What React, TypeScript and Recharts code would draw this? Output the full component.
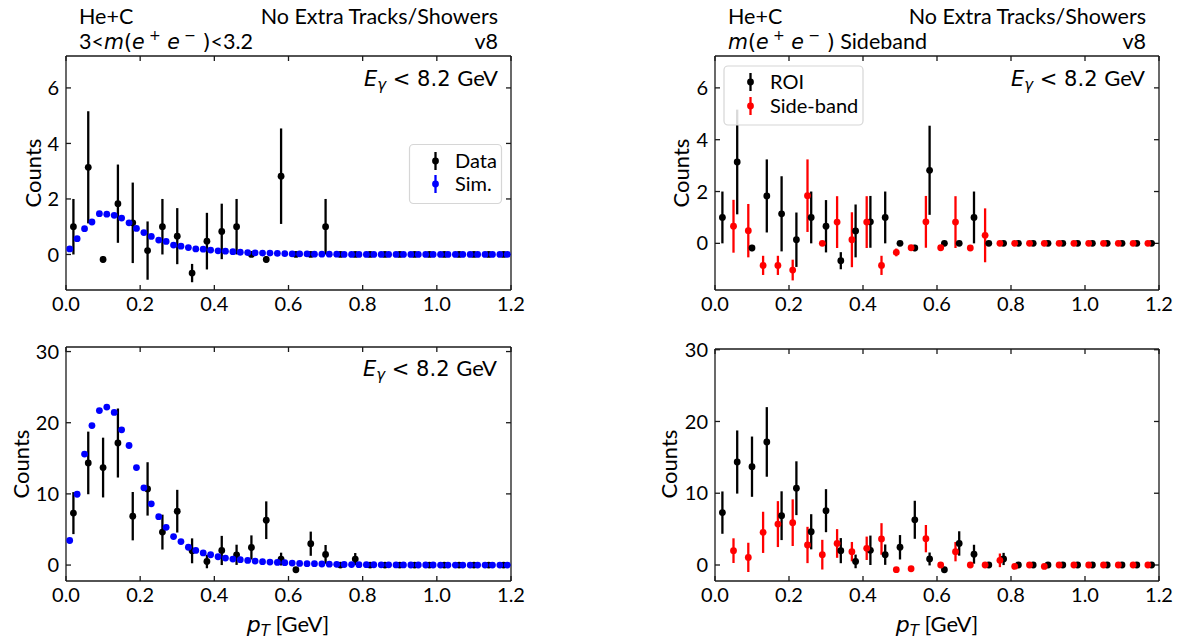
import React from 'react';
import { ScatterChart, Scatter, XAxis, YAxis, ErrorBar } from 'recharts';

// ---------- data ----------
const dataX = [0.02, 0.06, 0.10, 0.14, 0.18, 0.22, 0.26, 0.30, 0.34, 0.38, 0.42, 0.46, 0.50, 0.54, 0.58, 0.62, 0.66, 0.70, 0.74, 0.78, 0.82, 0.86, 0.90, 0.94, 0.98, 1.02, 1.06, 1.10, 1.14, 1.18];
const simX = [0.01, 0.03, 0.05, 0.07, 0.09, 0.11, 0.13, 0.15, 0.17, 0.19, 0.21, 0.23, 0.25, 0.27, 0.29, 0.31, 0.33, 0.35, 0.37, 0.39, 0.41, 0.43, 0.45, 0.47, 0.49, 0.51, 0.53, 0.55, 0.57, 0.59, 0.61, 0.63, 0.65, 0.67, 0.69, 0.71, 0.73, 0.75, 0.77, 0.79, 0.81, 0.83, 0.85, 0.87, 0.89, 0.91, 0.93, 0.95, 0.97, 0.99, 1.01, 1.03, 1.05, 1.07, 1.09, 1.11, 1.13, 1.15, 1.17, 1.19];
const sideX = [0.05, 0.09, 0.13, 0.17, 0.21, 0.25, 0.29, 0.33, 0.37, 0.41, 0.45, 0.49, 0.53, 0.57, 0.61, 0.65, 0.69, 0.73, 0.77, 0.81, 0.85, 0.89, 0.93, 0.97, 1.01, 1.05, 1.09, 1.13, 1.17];

const topDataY = [1.0, 3.14, -0.18, 1.83, 1.14, 0.14, 1.0, 0.66, -0.67, 0.48, 0.83, 1.0, 0, -0.18, 2.82, 0, 0, 1.0, 0, 0, 0, 0, 0, 0, 0, 0, 0, 0, 0, 0];
const topDataE = [1.0, 2.02, 0.12, 1.41, 1.45, 1.05, 1.0, 1.01, 0.33, 1.02, 1.0, 1.0, 0, 0.12, 1.72, 0, 0, 1.0, 0, 0, 0, 0, 0, 0, 0, 0, 0, 0, 0, 0];
const topSimY = [0.2, 0.57, 0.93, 1.17, 1.47, 1.45, 1.41, 1.31, 1.14, 0.94, 0.79, 0.65, 0.52, 0.47, 0.34, 0.30, 0.25, 0.20, 0.19, 0.16, 0.13, 0.12, 0.10, 0.08, 0.07, 0.06, 0.05, 0.05, 0.04, 0.03, 0.02, 0.02, 0.02, 0.01, 0.01, 0.01, 0.01, 0, 0, 0, 0, 0, 0, 0, 0, 0, 0, 0, 0, 0, 0, 0, 0, 0, 0, 0, 0, 0, 0, 0];
const topSideY = [0.66, 0.49, -0.85, -0.85, -1.03, 1.84, 0, 0.82, 0.14, 0.82, -0.85, -0.35, -0.17, 0.83, -0.17, 0.82, -0.18, 0.31, 0, 0, 0, 0, 0, 0, 0, 0, 0, 0, 0];
const topSideE = [1.02, 1.03, 0.37, 0.37, 0.4, 1.4, 0, 1.0, 1.06, 1.0, 0.37, 0.15, 0.1, 1.0, 0.1, 1.0, 0.1, 1.04, 0, 0, 0, 0, 0, 0, 0, 0, 0, 0, 0];

const botDataY = [7.3, 14.35, 13.7, 17.15, 6.87, 10.7, 4.63, 7.57, 2.0, 0.5, 2.05, 1.44, 2.47, 6.3, 0.84, -0.66, 3.0, 1.5, 0, 0.84, 0, 0, 0, 0, 0, 0, 0, 0, 0, 0];
const botDataE = [2.95, 4.4, 4.2, 4.85, 3.4, 3.75, 2.45, 3.0, 1.75, 0.95, 2.05, 1.42, 1.7, 2.65, 0.9, 0.15, 1.7, 1.32, 0, 0.85, 0, 0, 0, 0, 0, 0, 0, 0, 0, 0];
const botSimY = [3.45, 9.95, 15.6, 19.6, 21.7, 22.2, 21.45, 19.0, 16.8, 13.7, 10.85, 8.6, 6.8, 5.3, 4.0, 3.3, 2.5, 2.05, 1.7, 1.45, 1.17, 0.98, 0.84, 0.75, 0.65, 0.56, 0.47, 0.42, 0.37, 0.33, 0.28, 0.23, 0.2, 0.19, 0.15, 0.12, 0.1, 0.08, 0.07, 0.06, 0.05, 0.04, 0.03, 0.03, 0.02, 0.02, 0.01, 0.01, 0.01, 0.01, 0, 0, 0, 0, 0, 0, 0, 0, 0, 0];
const botSideY = [2.0, 1.06, 4.55, 5.7, 5.9, 2.79, 1.44, 3.0, 1.86, 2.33, 3.63, -0.65, -0.52, 3.67, 0, 1.86, 0, 0, 0.65, -0.2, 0, -0.2, 0, 0, 0, 0, 0, 0, 0];
const botSideE = [1.72, 2.04, 2.87, 3.2, 3.25, 2.53, 2.07, 2.0, 1.35, 1.63, 2.2, 0, 0, 1.9, 0, 1.35, 0, 0, 0.95, 0, 0, 0, 0, 0, 0, 0, 0, 0, 0];

const xTicks = [0, 0.2, 0.4, 0.6, 0.8, 1.0, 1.2];
const topYTicks = [0, 2, 4, 6];
const botYTicks = [0, 10, 20, 30];

const BLACK = '#000000';
const BLUE = '#0000ff';
const RED = '#ff0000';
const AX = '#1a1a1a';
const SANS = 'Lato, "Noto Sans", sans-serif';
const MATH = '"DejaVu Sans", sans-serif';

const build = (xs: number[], ys: number[], es?: number[]) =>
  xs.map((x, i) => ({ x, y: ys[i], e: es ? es[i] : 0 }));

type Series = { data: { x: number; y: number; e: number }[]; color: string; err: boolean; name: string };

const dot = (color: string) => (p: any) =>
  p.cx == null ? <g /> : <circle cx={p.cx} cy={p.cy} r={3.4} fill={color} />;
const nothing = () => <g />;

type PanelProps = {
  left: number; top: number; width: number; height: number;
  plotLeft: number; plotRight: number; plotTop: number; plotBottom: number;
  yDomain: [number, number]; yTicks: number[]; series: Series[];
};

function Panel(p: PanelProps) {
  const axisLine = { stroke: AX, strokeWidth: 1.3 };
  return (
    <div style={{ position: 'absolute', left: p.left, top: p.top }}>
      <ScatterChart
        width={p.width}
        height={p.height}
        margin={{ top: p.plotTop - 1, right: p.width - p.plotRight - 1, bottom: 0, left: 0 }}
      >
        <XAxis
          xAxisId="b" type="number" dataKey="x" domain={[0, 1.2]} ticks={xTicks}
          allowDataOverflow orientation="bottom" height={p.height - p.plotBottom}
          tickSize={-5} tickMargin={12} axisLine={axisLine} tickLine={axisLine}
          tickFormatter={(v: number) => v.toFixed(1)}
          tick={{ fill: '#000', fontSize: 20, fontFamily: SANS }}
        />
        <XAxis
          xAxisId="t" type="number" dataKey="x" domain={[0, 1.2]} ticks={xTicks} allowDataOverflow
          orientation="top" height={1} tickSize={-5} tickMargin={0}
          tickFormatter={() => ''}
          axisLine={axisLine} tickLine={axisLine}
        />
        <YAxis
          yAxisId="l" type="number" dataKey="y" domain={p.yDomain} ticks={p.yTicks}
          allowDataOverflow width={p.plotLeft} tickSize={-5} tickMargin={12}
          axisLine={axisLine} tickLine={axisLine}
          tick={{ fill: '#000', fontSize: 20, fontFamily: SANS }}
        />
        <YAxis
          yAxisId="r" type="number" dataKey="y" domain={p.yDomain} ticks={p.yTicks} allowDataOverflow
          orientation="right" width={1} tickSize={-5} tickMargin={0}
          tickFormatter={() => ''}
          axisLine={axisLine} tickLine={axisLine}
        />
        <Scatter
          name="frame" data={p.series[0].data} xAxisId="t" yAxisId="r"
          fill="none" shape={nothing} isAnimationActive={false} legendType="none"
        />
        {p.series.map((s) => (
          <Scatter
            key={s.name} name={s.name} data={s.data} xAxisId="b" yAxisId="l"
            fill={s.color} shape={dot(s.color)} isAnimationActive={false}
          >
            {s.err ? (
              <ErrorBar dataKey="e" direction="y" width={0} stroke={s.color} strokeWidth={2.3} />
            ) : null}
          </Scatter>
        ))}
      </ScatterChart>
    </div>
  );
}

function Egamma({ x, y }: { x: number; y: number }) {
  return (
    <text x={x} y={y} textAnchor="end" fontSize={21} fill="#000">
      <tspan fontFamily={MATH} fontStyle="italic">E</tspan>
      <tspan fontFamily={MATH} fontStyle="italic" fontSize={15} dy={4}>γ</tspan>
      <tspan fontFamily={MATH} dy={-4}>{' < 8.2 '}</tspan>
      <tspan fontFamily={SANS} fontSize={22}>GeV</tspan>
    </text>
  );
}

function PtLabel({ x, y }: { x: number; y: number }) {
  return (
    <text x={x} y={y} textAnchor="middle" fontSize={22} fill="#000">
      <tspan fontFamily={MATH} fontStyle="italic">p</tspan>
      <tspan fontFamily={MATH} fontStyle="italic" fontSize={15} dy={4}>T</tspan>
      <tspan fontFamily={SANS} dy={-4}>{' [GeV]'}</tspan>
    </text>
  );
}

function Mee() {
  return [
    <tspan key="m" fontFamily={MATH} fontStyle="italic">m</tspan>,
    <tspan key="p1" fontFamily={MATH}>(</tspan>,
    <tspan key="e1" fontFamily={MATH} fontStyle="italic">e</tspan>,
    <tspan key="s1" fontFamily={MATH} fontSize={14} dy={-9}>{' +'}</tspan>,
    <tspan key="e2" fontFamily={MATH} fontStyle="italic" dy={9}>{' e'}</tspan>,
    <tspan key="s2" fontFamily={MATH} fontSize={14} dy={-9}>{' −'}</tspan>,
    <tspan key="p2" fontFamily={MATH} dy={9}>{' )'}</tspan>,
  ];
}

function LegendBox({ x, y, w, h, rows }: { x: number; y: number; w: number; h: number; rows: { label: string; color: string; cy: number; mx: number; tx: number }[] }) {
  return (
    <g>
      <rect x={x} y={y} width={w} height={h} rx={4} fill="#ffffff" fillOpacity={0.85} stroke="#d6d6d6" strokeWidth={1.2} />
      {rows.map((r) => (
        <g key={r.label}>
          <line x1={r.mx} x2={r.mx} y1={r.cy - 9} y2={r.cy + 9} stroke={r.color} strokeWidth={2.3} />
          <circle cx={r.mx} cy={r.cy} r={3.4} fill={r.color} />
          <text x={r.tx} y={r.cy + 7} fontSize={20} fontFamily={SANS} fill="#000">{r.label}</text>
        </g>
      ))}
    </g>
  );
}

export default function App() {
  const topData = build(dataX, topDataY, topDataE);
  const topSim = build(simX, topSimY);
  const topSide = build(sideX, topSideY, topSideE);
  const botData = build(dataX, botDataY, botDataE);
  const botSim = build(simX, botSimY);
  const botSide = build(sideX, botSideY, botSideE);
  const T = 21.5;

  return (
    <div style={{ position: 'absolute', left: 0, top: 0, width: 1181, height: 643, background: '#fff', overflow: 'hidden' }}>
      <Panel left={0} top={0} width={560} height={320} plotLeft={66} plotRight={511} plotTop={56} plotBottom={290}
        yDomain={[-1.28, 7.15]} yTicks={topYTicks}
        series={[{ name: 'Data', data: topData, color: BLACK, err: true }, { name: 'Sim.', data: topSim, color: BLUE, err: false }]} />
      <Panel left={640} top={0} width={541} height={320} plotLeft={75} plotRight={519} plotTop={56} plotBottom={290}
        yDomain={[-1.8, 7.23]} yTicks={topYTicks}
        series={[{ name: 'ROI', data: topData, color: BLACK, err: true }, { name: 'Side-band', data: topSide, color: RED, err: true }]} />
      <Panel left={0} top={320} width={560} height={323} plotLeft={66} plotRight={511} plotTop={27} plotBottom={261}
        yDomain={[-2.24, 30.64]} yTicks={botYTicks}
        series={[{ name: 'Data', data: botData, color: BLACK, err: true }, { name: 'Sim.', data: botSim, color: BLUE, err: false }]} />
      <Panel left={640} top={320} width={541} height={323} plotLeft={75} plotRight={519} plotTop={29} plotBottom={261}
        yDomain={[-2.23, 30.1]} yTicks={botYTicks}
        series={[{ name: 'ROI', data: botData, color: BLACK, err: true }, { name: 'Side-band', data: botSide, color: RED, err: true }]} />

      <svg width={1181} height={643} style={{ position: 'absolute', left: 0, top: 0, pointerEvents: 'none' }}>
        {/* left column header */}
        <text x={79} y={24} fontSize={T} fontFamily={SANS} fill="#000">He+C</text>
        <text x={498} y={24} fontSize={T} fontFamily={SANS} fill="#000" textAnchor="end">No Extra Tracks/Showers</text>
        <text x={79} y={49} fontSize={20.5} fill="#000">
          <tspan fontFamily={SANS} fontSize={T}>3&lt;</tspan>
          {Mee()}
          <tspan fontFamily={SANS} fontSize={T}>&lt;3.2</tspan>
        </text>
        <text x={498} y={49} fontSize={T} fontFamily={SANS} fill="#000" textAnchor="end">v8</text>

        {/* right column header */}
        <text x={728} y={24} fontSize={T} fontFamily={SANS} fill="#000">He+C</text>
        <text x={1146} y={24} fontSize={T} fontFamily={SANS} fill="#000" textAnchor="end">No Extra Tracks/Showers</text>
        <text x={728} y={49} fontSize={20.5} fill="#000">
          {Mee()}
          <tspan fontFamily={SANS} fontSize={T}>{' Sideband'}</tspan>
        </text>
        <text x={1146} y={49} fontSize={T} fontFamily={SANS} fill="#000" textAnchor="end">v8</text>

        <Egamma x={498} y={86} />
        <Egamma x={1145} y={86} />
        <Egamma x={497} y={376} />

        <LegendBox x={409.5} y={144.5} w={92} h={59}
          rows={[{ label: 'Data', color: BLACK, cy: 161, mx: 435.5, tx: 455 }, { label: 'Sim.', color: BLUE, cy: 184, mx: 435.5, tx: 455 }]} />
        <LegendBox x={724} y={66} w={139} h={59}
          rows={[{ label: 'ROI', color: BLACK, cy: 82, mx: 750.5, tx: 770 }, { label: 'Side-band', color: RED, cy: 106, mx: 750.5, tx: 770 }]} />

        {/* axis titles */}
        <text x={41} y={173} fontSize={22} fontFamily={SANS} fill="#000" textAnchor="middle" transform="rotate(-90 41 173)">Counts</text>
        <text x={29} y={464} fontSize={22} fontFamily={SANS} fill="#000" textAnchor="middle" transform="rotate(-90 29 464)">Counts</text>
        <text x={689} y={173} fontSize={22} fontFamily={SANS} fill="#000" textAnchor="middle" transform="rotate(-90 689 173)">Counts</text>
        <text x={677} y={464} fontSize={22} fontFamily={SANS} fill="#000" textAnchor="middle" transform="rotate(-90 677 464)">Counts</text>
        <PtLabel x={288} y={632} />
        <PtLabel x={937} y={632} />
      </svg>
    </div>
  );
}
